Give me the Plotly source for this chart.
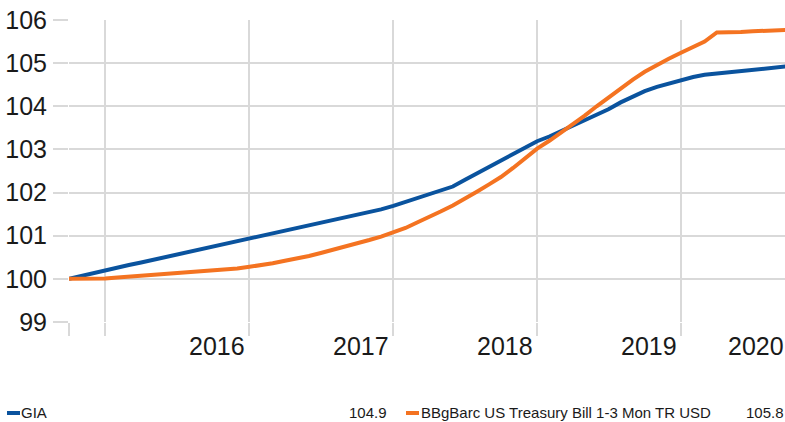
import plotly.graph_objects as go
import pandas as pd

# ---- data (monthly, index values) ----
dates = pd.date_range("2015-09-30", "2020-09-30", freq="ME").strftime("%Y-%m-%d").tolist()

gia = [100.00, 100.07, 100.13, 100.20, 100.26, 100.32, 100.38, 100.44, 100.50, 100.56,
       100.62, 100.68, 100.75, 100.81, 100.87, 100.94, 101.00, 101.06, 101.12, 101.18,
       101.24, 101.30, 101.36, 101.42, 101.48, 101.54, 101.61, 101.69, 101.78, 101.87,
       101.96, 102.05, 102.14, 102.29, 102.44, 102.59, 102.73, 102.88, 103.03, 103.19,
       103.30, 103.42, 103.54, 103.66, 103.79, 103.93, 104.09, 104.23, 104.35, 104.45,
       104.53, 104.61, 104.68, 104.73, 104.76, 104.78, 104.81, 104.85, 104.89, 104.92,
       104.93]

tbill = [100.00, 100.00, 100.01, 100.01, 100.03, 100.05, 100.07, 100.08, 100.10, 100.12,
         100.14, 100.16, 100.19, 100.21, 100.24, 100.28, 100.32, 100.36, 100.42, 100.47,
         100.53, 100.60, 100.67, 100.74, 100.82, 100.90, 100.98, 101.08, 101.18, 101.30,
         101.42, 101.56, 101.70, 101.85, 102.02, 102.19, 102.36, 102.57, 102.80, 103.02,
         103.20, 103.38, 103.57, 103.78, 104.00, 104.21, 104.42, 104.62, 104.80, 104.96,
         105.10, 105.24, 105.37, 105.50, 105.71, 105.71, 105.72, 105.74, 105.75, 105.76,
         105.77]

series_names = ["GIA", "BBgBarc US Treasury Bill 1-3 Mon TR USD"]
final_labels = ["104.9", "105.8"]
year_labels = ["2016", "2017", "2018", "2019"]
year_label_dates = ["2016-12-31", "2017-12-31", "2018-12-31", "2019-12-31"]
last_year_label = "2020"
grid_dates = ["2015-09-30", "2015-12-31", "2016-12-31", "2017-12-31", "2018-12-31", "2019-12-31"]

BLUE = "#0a539e"
ORANGE = "#f47321"
GRID = "#d9d9d9"
FONT = "Liberation Sans, Arial, sans-serif"
TXT = "#1a1a1a"

W, H = 785, 422
ML, MR, MT, MB = 69, 0, 20, 100
PW = W - ML - MR
PH = H - MT - MB


def px_x(px):
    return (px - ML) / PW


def px_y(py):
    return (H - MB - py) / PH


fig = go.Figure()
fig.add_trace(go.Scatter(x=dates, y=gia, mode="lines", name=series_names[0],
                         line=dict(color=BLUE, width=4), showlegend=False))
fig.add_trace(go.Scatter(x=dates, y=tbill, mode="lines", name=series_names[1],
                         line=dict(color=ORANGE, width=4), showlegend=False))

annotations = []
for lab, d in zip(year_labels, year_label_dates):
    annotations.append(dict(x=d, xref="x", y=px_y(346), yref="paper", text=lab,
                            showarrow=False, xanchor="right", yanchor="middle", xshift=-2,
                            font=dict(family=FONT, size=25, color=TXT)))
annotations.append(dict(x=1, xref="paper", y=px_y(346), yref="paper", text=last_year_label,
                        showarrow=False, xanchor="right", yanchor="middle", xshift=1,
                        font=dict(family=FONT, size=25, color=TXT)))

# legend-like row
leg_y = px_y(413)
LF = 15
annotations += [
    dict(x=px_x(21), xref="paper", y=leg_y, yref="paper", text=series_names[0], showarrow=False,
         xanchor="left", yanchor="middle", xshift=-2, font=dict(family=FONT, size=LF, color=TXT)),
    dict(x=px_x(387), xref="paper", y=leg_y, yref="paper", text=final_labels[0], showarrow=False,
         xanchor="right", yanchor="middle", xshift=2, font=dict(family=FONT, size=LF, color=TXT)),
    dict(x=px_x(421), xref="paper", y=leg_y, yref="paper", text=series_names[1], showarrow=False,
         xanchor="left", yanchor="middle", xshift=-2, font=dict(family=FONT, size=LF, color=TXT)),
    dict(x=px_x(784), xref="paper", y=leg_y, yref="paper", text=final_labels[1], showarrow=False,
         xanchor="right", yanchor="middle", xshift=2, font=dict(family=FONT, size=LF, color=TXT)),
]

shapes = [
    dict(type="line", xref="paper", yref="paper", x0=px_x(7), x1=px_x(20), y0=px_y(413), y1=px_y(413),
         line=dict(color=BLUE, width=4)),
    dict(type="line", xref="paper", yref="paper", x0=px_x(406), x1=px_x(419), y0=px_y(413), y1=px_y(413),
         line=dict(color=ORANGE, width=4)),
]

fig.update_layout(
    width=W, height=H,
    margin=dict(l=ML, r=MR, t=MT, b=MB),
    paper_bgcolor="white", plot_bgcolor="white",
    font=dict(family=FONT, color=TXT),
    showlegend=False,
    annotations=annotations,
    shapes=shapes,
    xaxis=dict(type="date", range=["2015-09-30", "2020-09-20"],
               tickmode="array", tickvals=grid_dates, ticktext=[""] * len(grid_dates),
               showgrid=True, gridcolor=GRID, gridwidth=2,
               ticks="outside", ticklen=13, tickwidth=2, tickcolor=GRID,
               showline=False, zeroline=False, fixedrange=True),
    yaxis=dict(range=[99, 106], tickmode="linear", tick0=99, dtick=1,
               showgrid=True, gridcolor=GRID, gridwidth=2,
               ticks="outside", ticklen=15, tickwidth=2, tickcolor=GRID,
               tickfont=dict(family=FONT, size=25, color=TXT),
               ticklabelstandoff=1,
               showline=False, zeroline=False, fixedrange=True),
)

fig.write_html("out.html", config={"displayModeBar": False},
               post_script="document.body.style.margin='0';document.body.style.padding='0';")
